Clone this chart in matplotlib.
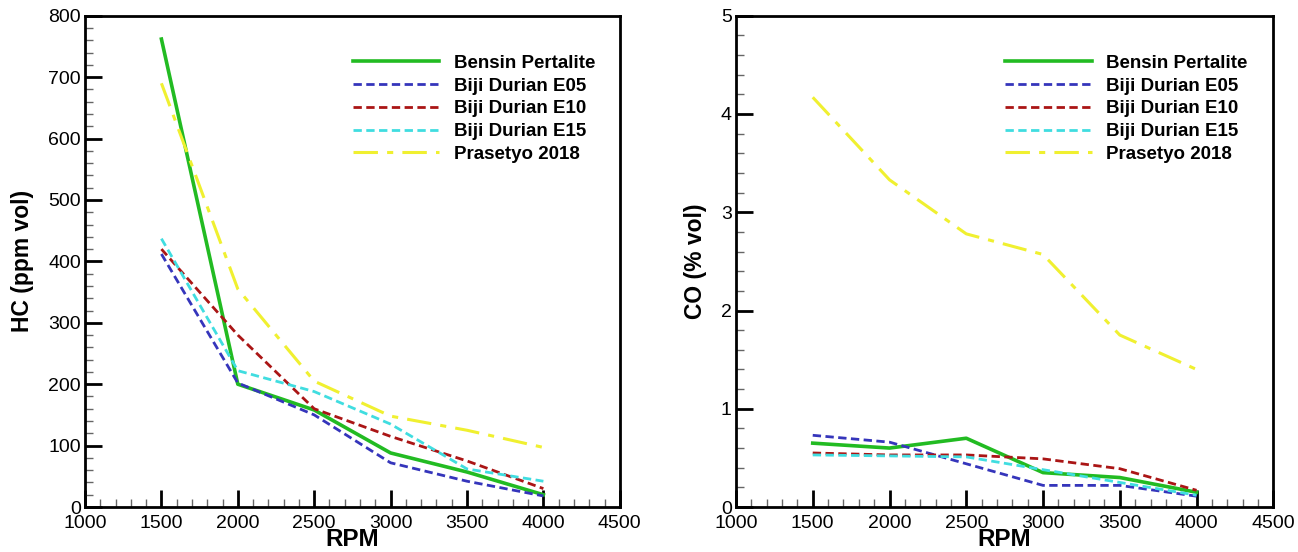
import matplotlib.pyplot as plt
from matplotlib.ticker import MultipleLocator

plt.rcParams['font.family'] = ['Liberation Sans', 'DejaVu Sans']

rpm = [1500, 2000, 2500, 3000, 3500, 4000]
labels = ["Bensin Pertalite", "Biji Durian E05", "Biji Durian E10",
          "Biji Durian E15", "Prasetyo 2018"]

hc_pertalite = [762, 200, 158, 88, 57, 20]
hc_e05 = [412, 202, 150, 72, 42, 18]
hc_e10 = [420, 280, 160, 115, 75, 30]
hc_e15 = [437, 222, 188, 135, 62, 42]
hc_prasetyo = [690, 355, 205, 148, 125, 97]

co_pertalite = [0.65, 0.60, 0.70, 0.35, 0.30, 0.15]
co_e05 = [0.73, 0.66, 0.44, 0.22, 0.22, 0.11]
co_e10 = [0.55, 0.53, 0.53, 0.49, 0.39, 0.17]
co_e15 = [0.53, 0.52, 0.51, 0.38, 0.25, 0.12]
co_prasetyo = [4.17, 3.33, 2.78, 2.57, 1.75, 1.40]

styles = [("#22bb22", "-", 2.6),
          ("#3535bb", (0, (3, 1.6)), 2.0),
          ("#aa1515", (0, (3, 1.6)), 2.0),
          ("#40dde0", (0, (3, 1.6)), 2.0),
          ("#f0f030", (0, (8, 3, 2, 3)), 2.2)]

fig = plt.figure(figsize=(12.98, 5.52), dpi=100)
ax1 = fig.add_axes([0.0655, 0.0815, 0.412, 0.890])
ax2 = fig.add_axes([0.567, 0.0815, 0.414, 0.890])


def draw(ax, series, ylim, ymajor, yminor, ylabel):
    for (c, ls, lw), vals, lab in zip(styles, series, labels):
        ax.plot(rpm, vals, color=c, linestyle=ls, linewidth=lw, label=lab)
    ax.set_xlim(1000, 4500)
    ax.set_ylim(*ylim)
    ax.xaxis.set_major_locator(MultipleLocator(500))
    ax.xaxis.set_minor_locator(MultipleLocator(100))
    ax.yaxis.set_major_locator(MultipleLocator(ymajor))
    ax.yaxis.set_minor_locator(MultipleLocator(yminor))
    ax.tick_params(which='major', direction='in', length=12, width=2,
                   labelsize=14, pad=3)
    ax.tick_params(axis='x', which='major', pad=6)
    ax.tick_params(which='minor', direction='in', length=6, width=1,
                   color='#666666')
    for s in ax.spines.values():
        s.set_linewidth(2)
    ax.set_xlabel("RPM", fontsize=17.5, fontweight='bold', labelpad=-3)
    ax.set_ylabel(ylabel, fontsize=16.5, fontweight='bold', labelpad=10)
    ax.legend(loc='upper left', bbox_to_anchor=(0.47, 0.955), frameon=False,
              prop={'weight': 'bold', 'size': 13.5}, handlelength=4.6,
              labelspacing=0.3, handletextpad=0.75)


draw(ax1, [hc_pertalite, hc_e05, hc_e10, hc_e15, hc_prasetyo],
     (0, 800), 100, 20, "HC (ppm vol)")
draw(ax2, [co_pertalite, co_e05, co_e10, co_e15, co_prasetyo],
     (0, 5), 1, 0.2, "CO (% vol)")

fig.savefig("out.png", dpi=100)
